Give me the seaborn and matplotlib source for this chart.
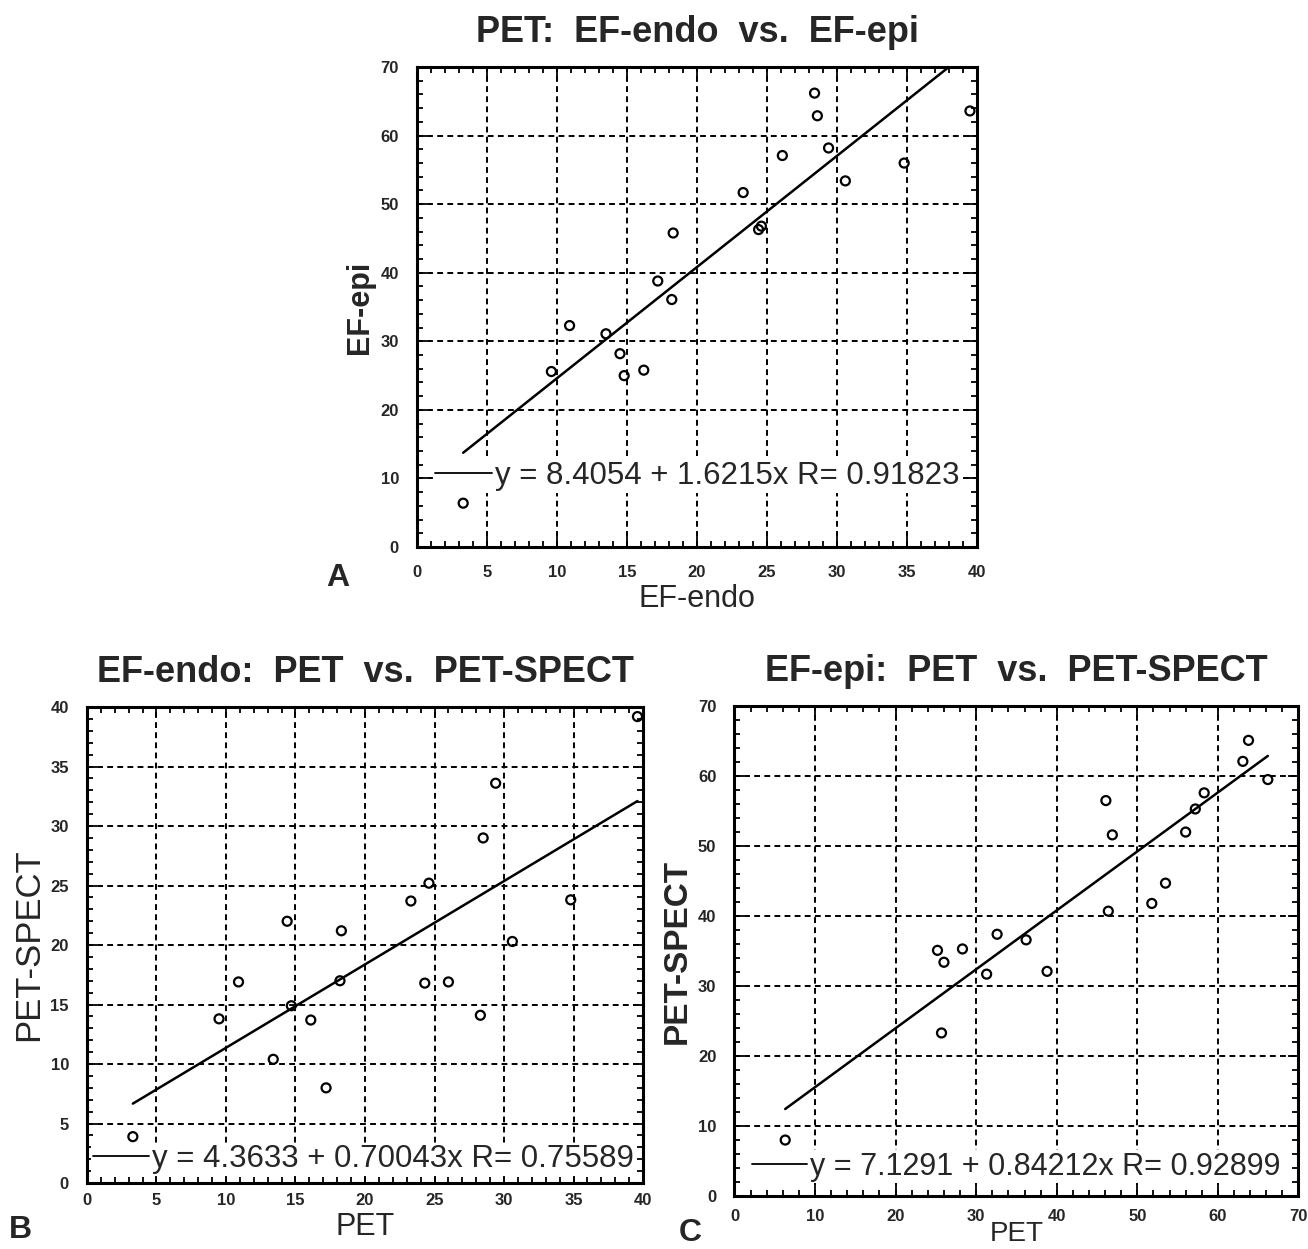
import numpy as np
import pandas as pd
import matplotlib
matplotlib.use("Agg")
import matplotlib.pyplot as plt
from matplotlib.ticker import MultipleLocator
import seaborn as sns

# ----------------------------------------
# Data
# ----------------------------------------
pet_endo = [3.3, 9.6, 10.9, 13.5, 14.5, 14.8, 16.2, 17.2, 18.2, 18.3,
            23.3, 24.4, 24.6, 26.1, 28.4, 28.6, 29.4, 30.6, 34.8, 39.5]
pet_epi = [6.4, 25.6, 32.3, 31.1, 28.2, 25.0, 25.8, 38.8, 36.1, 45.8,
           51.7, 46.3, 46.8, 57.1, 66.2, 62.9, 58.2, 53.4, 56.0, 63.6]

endo_pet = [3.3, 9.5, 10.9, 13.4, 14.4, 14.7, 16.1, 17.2, 18.2, 18.3,
            23.3, 24.3, 24.6, 26.0, 28.3, 28.5, 29.4, 30.6, 34.8, 39.6]
endo_spect = [3.9, 13.8, 16.9, 10.4, 22.0, 14.9, 13.7, 8.0, 17.0, 21.2,
              23.7, 16.8, 25.2, 16.9, 14.1, 29.0, 33.6, 20.3, 23.8, 39.2]

epi_pet = [6.3, 25.2, 25.7, 26.0, 28.3, 31.3, 32.6, 36.2, 38.8, 46.1,
           46.4, 46.9, 51.8, 53.5, 56.0, 57.2, 58.3, 63.1, 63.8, 66.2]
epi_spect = [8.0, 35.1, 23.3, 33.4, 35.3, 31.7, 37.4, 36.6, 32.1, 56.5,
             40.7, 51.6, 41.8, 44.7, 52.0, 55.3, 57.6, 62.1, 65.1, 59.5]

fit_a = [8.4054, 1.6215, 0.91823]
fit_b = [4.3633, 0.70043, 0.75589]
fit_c = [7.1291, 0.84212, 0.92899]

# ----------------------------------------
# Style
# ----------------------------------------
sns.set_style("ticks")
plt.rcParams["font.family"] = ["Liberation Sans", "DejaVu Sans"]

fig = plt.figure(figsize=(13.08, 12.49), dpi=100)

ax_a = fig.add_axes([0.3188, 0.5620, 0.4281, 0.3843])
ax_b = fig.add_axes([0.0665, 0.0528, 0.4251, 0.3811])
ax_c = fig.add_axes([0.5615, 0.0424, 0.4312, 0.3923])


def panel(ax, x, y, fit, xlim, ylim, major, minor_x, minor_y, title,
          xlabel, ylabel, ylabel_bold, ylabel_size, xlabel_size, xlabel_pad,
          xtick_pad, leg_size, leg_anchor):
    df = pd.DataFrame({"x": x, "y": y})
    sns.scatterplot(data=df, x="x", y="y", ax=ax, marker="o",
                    s=42, facecolor="none", edgecolor="black",
                    linewidth=1.6, zorder=3)

    xs = np.array([min(x), max(x)])
    line = pd.DataFrame({"x": xs, "y": fit[0] + fit[1] * xs})
    label = f"y = {fit[0]:.4f} + {fit[1]:.5g}x R= {fit[2]:.5f}"
    sns.lineplot(data=line, x="x", y="y", ax=ax, color="black",
                 linewidth=1.8, label=label, zorder=2)

    ax.set_xlim(0, xlim)
    ax.set_ylim(0, ylim)
    ax.xaxis.set_major_locator(MultipleLocator(major[0]))
    ax.yaxis.set_major_locator(MultipleLocator(major[1]))
    ax.xaxis.set_minor_locator(MultipleLocator(minor_x))
    ax.yaxis.set_minor_locator(MultipleLocator(minor_y))

    ax.grid(True, which="major", color="black", linestyle=(0, (3, 2.2)),
            linewidth=1.4)
    ax.tick_params(which="both", direction="in", top=True, right=True,
                   color="black", width=1.3)
    ax.tick_params(which="major", length=7, labelsize=12, pad=13)
    ax.tick_params(axis="x", which="major", pad=xtick_pad)
    ax.tick_params(which="minor", length=4)
    for lab in ax.get_xticklabels() + ax.get_yticklabels():
        lab.set_fontweight("bold")
    for sp in ax.spines.values():
        sp.set_linewidth(2.2)
        sp.set_color("black")

    ax.set_title(title, fontsize=26, fontweight="bold", pad=18)
    ax.set_xlabel(xlabel, fontsize=xlabel_size, labelpad=xlabel_pad)
    ax.set_ylabel(ylabel, fontsize=ylabel_size,
                  fontweight="bold" if ylabel_bold else "normal", labelpad=4)

    leg = ax.legend(loc="center left", bbox_to_anchor=leg_anchor,
                    fontsize=leg_size, frameon=True, fancybox=False,
                    facecolor="white", edgecolor="none", framealpha=1,
                    borderpad=0.05, borderaxespad=0, handlelength=1.8,
                    handletextpad=0.1)
    leg.get_lines()[0].set_linewidth(1.3)
    leg.set_zorder(4)


panel(ax_a, pet_endo, pet_epi, fit_a, 40, 70, (5, 10), 1, 2,
      "PET:  EF-endo  vs.  EF-epi", "EF-endo", "EF-epi", True, 22, 22, 3,
      13, 22.5, (0.03, 0.148))

panel(ax_b, endo_pet, endo_spect, fit_b, 40, 40, (5, 5), 1, 1,
      "EF-endo:  PET  vs.  PET-SPECT", "PET", "PET-SPECT", False, 25, 22, 3,
      7, 22.5, (0.008, 0.05))

panel(ax_c, epi_pet, epi_spect, fit_c, 70, 70, (10, 10), 2, 2,
      "EF-epi:  PET  vs.  PET-SPECT", "PET", "PET-SPECT", True, 24, 20, -2,
      9, 22, (0.028, 0.06))

fig.text(338 / 1308, 1 - 578 / 1249, "A", fontsize=23, fontweight="bold",
         ha="center", va="center")
fig.text(20 / 1308, 1 - 1230 / 1249, "B", fontsize=23, fontweight="bold",
         ha="center", va="center")
fig.text(690 / 1308, 1 - 1233 / 1249, "C", fontsize=23, fontweight="bold",
         ha="center", va="center")

fig.savefig("out.png", dpi=100, facecolor="white")
